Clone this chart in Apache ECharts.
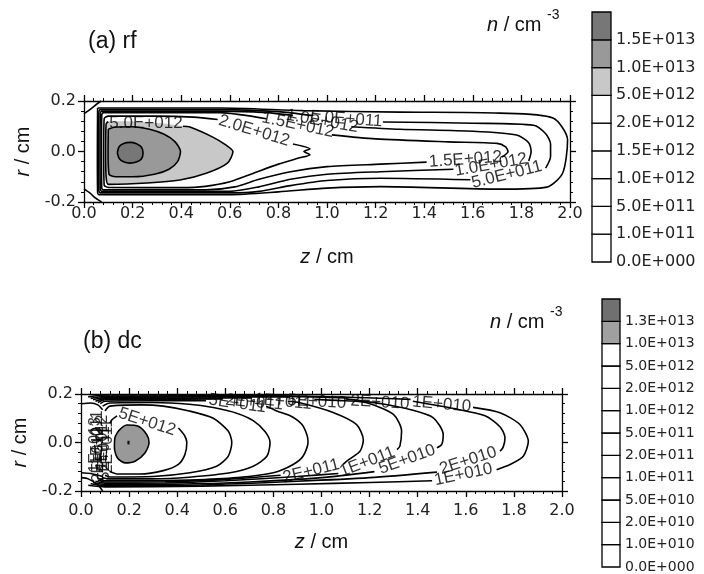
<!DOCTYPE html>
<html>
<head>
<meta charset="utf-8">
<script src="https://cdn.jsdelivr.net/npm/echarts@6/dist/echarts.min.js"></script>
<style>
html, body { margin: 0; background: #fff; }
#chart { width: 704px; height: 574px; }
</style>
</head>
<body>
<div id="chart"></div>
<script>
// tick labels
const zTicks = ['0.0', '0.2', '0.4', '0.6', '0.8', '1.0', '1.2', '1.4', '1.6', '1.8', '2.0']
const rTicks = ['-0.2', '0.0', '0.2']

// colour bars (bottom to top)
const barLabelsA = ['0.0E+000', '1.0E+011', '5.0E+011', '1.0E+012', '1.5E+012', '2.0E+012', '5.0E+012', '1.0E+013', '1.5E+013', '']
const barColorsA = ['#fff', '#fff', '#fff', '#fff', '#fff', '#fff', '#c8c8c8', '#999', '#777']
const barLabelsB = ['0.0E+000', '1.0E+010', '2.0E+010', '5.0E+010', '1.0E+011', '2.0E+011', '5.0E+011', '1.0E+012', '2.0E+012', '5.0E+012', '1.0E+013', '1.3E+013', '']
const barColorsB = ['#fff', '#fff', '#fff', '#fff', '#fff', '#fff', '#fff', '#fff', '#fff', '#fff', '#a0a0a0', '#707070']

// ---- panel (a) rf : [z, r] points ----
const aLight = [[0.091, 0.12], [0.2, 0.12], [0.32, 0.112], [0.436, 0.097], [0.53, 0.057], [0.585, 0.025], [0.613, 0.0], [0.59, -0.046], [0.506, -0.085], [0.395, -0.113], [0.26, -0.125], [0.1, -0.13], [0.091, -0.1], [0.089, 0.0]]
const aMid = [[0.1, 0.088], [0.13, 0.097], [0.2, 0.098], [0.27, 0.088], [0.33, 0.068], [0.375, 0.038], [0.397, 0.0], [0.385, -0.04], [0.35, -0.07], [0.29, -0.09], [0.2, -0.1], [0.13, -0.1], [0.103, -0.09], [0.099, 0.0]]
const aDark = [[0.137, -0.005], [0.145, 0.02], [0.163, 0.032], [0.19, 0.036], [0.216, 0.031], [0.236, 0.018], [0.243, -0.005], [0.236, -0.03], [0.215, -0.042], [0.19, -0.046], [0.163, -0.041], [0.145, -0.028]]

const a5e12 = [
  [[0.407, 0.1], [0.436, 0.097], [0.53, 0.057], [0.585, 0.025], [0.613, 0.0], [0.59, -0.046], [0.506, -0.085], [0.395, -0.113], [0.26, -0.125], [0.1, -0.13], [0.091, -0.1], [0.089, 0.0], [0.091, 0.11], [0.1, 0.118]]
]
const a2e12 = [
  [[0.55, 0.127], [0.45, 0.136], [0.3, 0.14], [0.1, 0.14], [0.083, 0.13], [0.081, 0.0], [0.083, -0.133], [0.1, -0.142], [0.4, -0.143], [0.5, -0.138], [0.6, -0.12], [0.7, -0.085], [0.8, -0.05], [0.88, -0.027], [0.93, -0.013], [0.905, 0.0], [0.93, 0.01], [0.86, 0.03]]
]
const a15e12 = [
  [[0.75, 0.13], [0.65, 0.145], [0.56, 0.154], [0.3, 0.154], [0.08, 0.154], [0.073, 0.145], [0.072, 0.0], [0.073, -0.145], [0.08, -0.152], [0.3, -0.152], [0.5, -0.152], [0.62, -0.14], [0.72, -0.11], [0.85, -0.08], [1.0, -0.06], [1.22, -0.05], [1.41, -0.042]],
  [[1.72, -0.022], [1.745, 0.0], [1.735, 0.018], [1.7, 0.032], [1.5, 0.038], [1.2, 0.05], [1.02, 0.066]]
]
const a1e12 = [
  [[0.86, 0.143], [0.75, 0.154], [0.56, 0.16], [0.3, 0.16], [0.073, 0.16], [0.067, 0.15], [0.066, 0.0], [0.067, -0.15], [0.073, -0.158], [0.3, -0.158], [0.6, -0.158], [0.72, -0.14], [0.85, -0.11], [1.0, -0.09], [1.22, -0.08], [1.52, -0.07]],
  [[1.83, -0.038], [1.84, 0.0], [1.83, 0.035], [1.78, 0.065], [1.6, 0.08], [1.3, 0.088], [1.1, 0.098]]
]
const a5e11 = [
  [[0.94, 0.142], [0.8, 0.158], [0.56, 0.166], [0.3, 0.166], [0.067, 0.166], [0.061, 0.155], [0.06, 0.0], [0.061, -0.155], [0.067, -0.164], [0.3, -0.164], [0.6, -0.164], [0.72, -0.158], [0.85, -0.135], [1.0, -0.115], [1.22, -0.106], [1.59, -0.112]],
  [[1.9, -0.066], [1.92, -0.02], [1.92, 0.03], [1.9, 0.07], [1.85, 0.104], [1.6, 0.112], [1.23, 0.117]]
]
const a1e11 = [
  [[0.056, 0.172], [0.3, 0.172], [0.56, 0.172], [0.9, 0.162], [1.3, 0.156], [1.71, 0.152], [1.93, 0.133], [1.99, 0.046], [1.97, -0.085], [1.905, -0.141], [1.71, -0.149], [1.22, -0.139], [1.0, -0.145], [0.8, -0.16], [0.6, -0.171], [0.3, -0.171], [0.062, -0.171], [0.056, -0.162], [0.055, 0.0], [0.056, 0.172]]
]
const aCorners = [
  [[0, 0.15], [0.02, 0.163], [0.045, 0.182], [0.07, 0.2]],
  [[0, -0.148], [0.025, -0.165], [0.048, -0.185], [0.072, -0.2]]
]
// [text, z, r, rotation]
const aLabels = [
  ['5.0E+012', 0.255, 0.11, 0],
  ['2.0E+012', 0.7, 0.082, -17],
  ['1.5E+012', 0.88, 0.105, -12],
  ['1.0E+012', 0.98, 0.12, -10],
  ['5.0E+011', 1.08, 0.128, -4],
  ['1.5E+012', 1.57, -0.032, 4],
  ['1.0E+012', 1.675, -0.053, 10],
  ['5.0E+011', 1.74, -0.092, 14]
]

// ---- panel (b) dc ----
const bGray = [[0.155, 0.047], [0.19, 0.072], [0.238, 0.067], [0.273, 0.033], [0.283, -0.001], [0.266, -0.043], [0.225, -0.077], [0.183, -0.084], [0.151, -0.063], [0.139, -0.022], [0.141, 0.019]]
const bDark = [[0.193, 0.007], [0.202, 0.007], [0.202, -0.008], [0.193, -0.008]]

const b5e12 = [
  [[0.405, 0.06], [0.43, 0.03], [0.44, 0.0], [0.432, -0.05], [0.405, -0.09], [0.342, -0.116], [0.245, -0.13], [0.15, -0.13], [0.12, -0.12]],
  [[0.15, 0.11], [0.13, 0.095], [0.12, 0.08]]
]
const b2e12 = [
  [[0.1, 0.13], [0.12, 0.15], [0.25, 0.155], [0.342, 0.15], [0.45, 0.13], [0.55, 0.1], [0.612, 0.047], [0.627, 0.0], [0.612, -0.057], [0.564, -0.098], [0.453, -0.125], [0.3, -0.14], [0.12, -0.142], [0.1, -0.135]]
]
const b1e12 = [
  [[0.09, 0.15], [0.12, 0.163], [0.3, 0.165], [0.45, 0.158], [0.55, 0.144], [0.65, 0.12], [0.716, 0.09], [0.765, 0.045], [0.786, 0.0], [0.773, -0.057], [0.716, -0.098], [0.62, -0.125], [0.45, -0.143], [0.3, -0.15], [0.12, -0.15], [0.09, -0.145]]
]
const b5e11 = [
  [[0.77, 0.15], [0.814, 0.13], [0.87, 0.11], [0.918, 0.075], [0.94, 0.03], [0.944, 0.0], [0.923, -0.057], [0.882, -0.091], [0.8, -0.125], [0.65, -0.145], [0.45, -0.155], [0.25, -0.158], [0.1, -0.158], [0.08, -0.15]],
  [[0.52, 0.172], [0.3, 0.172], [0.1, 0.17], [0.08, 0.16]]
]
const b2e11 = [
  [[0.86, 0.17], [0.91, 0.164], [1.048, 0.124], [1.146, 0.074], [1.174, 0.01], [1.16, -0.036], [1.105, -0.077], [1.09, -0.09]],
  [[0.83, -0.135], [0.6, -0.152], [0.35, -0.162], [0.1, -0.163], [0.07, -0.155]],
  [[0.59, 0.18], [0.3, 0.178], [0.1, 0.176], [0.07, 0.165]]
]
const b1e11 = [
  [[0.97, 0.178], [1.1, 0.172], [1.188, 0.164], [1.299, 0.116], [1.333, 0.047], [1.326, -0.015], [1.314, -0.029]],
  [[1.07, -0.128], [0.9, -0.14], [0.6, -0.158], [0.35, -0.167], [0.1, -0.168], [0.06, -0.16]],
  [[0.71, 0.184], [0.4, 0.183], [0.1, 0.181], [0.06, 0.17]]
]
const b5e10 = [
  [[1.1, 0.18], [1.25, 0.16], [1.368, 0.136], [1.465, 0.102], [1.506, 0.033], [1.5, -0.008], [1.48, -0.022]],
  [[1.22, -0.12], [1.0, -0.145], [0.7, -0.163], [0.4, -0.172], [0.1, -0.173], [0.05, -0.165]],
  [[0.87, 0.188], [0.5, 0.188], [0.1, 0.186], [0.05, 0.176]]
]
const b2e10 = [
  [[1.38, 0.17], [1.55, 0.14], [1.68, 0.11], [1.742, 0.065], [1.763, 0.02], [1.755, -0.02], [1.742, -0.036]],
  [[1.48, -0.122], [1.2, -0.145], [0.9, -0.16], [0.5, -0.175], [0.1, -0.178], [0.04, -0.17]],
  [[1.11, 0.184], [0.7, 0.192], [0.1, 0.191], [0.04, 0.182]]
]
const b1e10 = [
  [[1.63, 0.145], [1.742, 0.123], [1.825, 0.074], [1.86, 0.005], [1.839, -0.057], [1.784, -0.091], [1.728, -0.112]],
  [[1.46, -0.158], [1.2, -0.165], [0.9, -0.172], [0.5, -0.18], [0.1, -0.183], [0.03, -0.176]],
  [[1.37, 0.178], [1.0, 0.19], [0.5, 0.195], [0.1, 0.196], [0.03, 0.188]]
]
const bCorners = [
  [[0, 0.16], [0.04, 0.163], [0.07, 0.155], [0.09, 0.135]],
  [[0, -0.125], [0.04, -0.128], [0.07, -0.135], [0.09, -0.14]],
  [[0, -0.145], [0.03, -0.15], [0.07, -0.175], [0.09, -0.2]]
]
const bLabels = [
  ['5E+012', 0.275, 0.085, -18],
  ['5E+011', 0.65, 0.16, -8],
  ['2E+011', 0.72, 0.165, -5],
  ['1E+011', 0.84, 0.168, -5],
  ['5E+010', 0.98, 0.168, -3],
  ['2E+010', 1.243, 0.165, -3],
  ['1E+010', 1.5, 0.157, -5],
  ['2E+011', 0.957, -0.118, 14],
  ['1E+011', 1.19, -0.08, 21],
  ['5E+010', 1.356, -0.07, 20],
  ['2E+010', 1.61, -0.075, 18],
  ['1E+010', 1.59, -0.132, 12]
]
// the crowded vertical labels by the left wall
const bWallLabels = [
  ['1E+013', 0.06, -0.01, 90],
  ['2E+012', 0.075, -0.05, 90],
  ['1E+012', 0.088, 0.0, 90],
  ['5E+011', 0.1, -0.045, 90],
  ['2E+011', 0.112, -0.015, 90],
  ['1E+011', 0.07, 0.02, 90]
]

const ring = pts => pts.concat([pts[0]])

const chart = echarts.init(document.getElementById('chart'))

const tickFont = { fontFamily: 'DejaVu Sans', fontSize: 16, color: '#222' }
const nameStyle = {
  fontFamily: 'Liberation Sans', fontSize: 20, color: '#111',
  rich: { i: { fontFamily: 'Liberation Sans', fontSize: 20, fontStyle: 'italic', color: '#111' } }
}
const axisCommon = {
  axisLine: { show: true, onZero: false, lineStyle: { color: '#000', width: 1.3 } },
  axisTick: { show: true, length: 6, lineStyle: { color: '#000', width: 1.3 } },
  minorTick: { show: true, splitNumber: 5, length: 3, lineStyle: { color: '#000', width: 1 } },
  splitLine: { show: false }
}

function zAxis (grid, pos, labels, margin, gap) {
  return Object.assign({
    type: 'value', gridIndex: grid, position: pos, min: 0, max: 2, interval: 0.2,
    axisLabel: Object.assign({ show: labels, margin: margin, formatter: v => zTicks[Math.round(v / 0.2)] }, tickFont),
    name: labels ? '{i|z} / cm' : '', nameLocation: 'middle', nameGap: gap, nameTextStyle: nameStyle
  }, axisCommon)
}
function rAxis (grid, pos, labels, gap) {
  return Object.assign({
    type: 'value', gridIndex: grid, position: pos, min: -0.2, max: 0.2, interval: 0.2,
    axisLabel: Object.assign({ show: labels, margin: 8, formatter: v => rTicks[Math.round((v + 0.2) / 0.2)] }, tickFont),
    name: labels ? '{i|r} / cm' : '', nameLocation: 'middle', nameRotate: 90, nameGap: gap, nameTextStyle: nameStyle
  }, axisCommon)
}
function barAxis (grid, n, labels, size) {
  return {
    type: 'value', gridIndex: grid, position: 'right', min: 0, max: n, interval: 1,
    axisLine: { show: false }, axisTick: { show: false }, splitLine: { show: false },
    axisLabel: { margin: 5, formatter: v => labels[Math.round(v)], fontFamily: 'DejaVu Sans', fontSize: size, color: '#222' }
  }
}
const hidden = grid => ({ type: 'value', gridIndex: grid, min: 0, max: 1, show: false })

function lines (groups, ai) {
  const out = []
  groups.forEach(g => g.forEach(seg => out.push({
    type: 'line', xAxisIndex: ai, yAxisIndex: ai, data: seg, smooth: 0.25,
    showSymbol: false, symbol: 'none', silent: true, z: 3,
    lineStyle: { color: '#000', width: 1.6 }
  })))
  return out
}
function fills (polys, colors, ai) {
  return {
    type: 'custom', xAxisIndex: ai, yAxisIndex: ai, silent: true, z: 2,
    data: polys.map((p, i) => [p[0][0], p[0][1], i]),
    renderItem: (params, api) => {
      const i = api.value(2)
      return {
        type: 'polygon',
        shape: { points: polys[i].map(p => api.coord(p)) },
        style: { fill: colors[i], stroke: null }
      }
    }
  }
}
function labels (list, ai, size) {
  return {
    type: 'scatter', xAxisIndex: ai, yAxisIndex: ai, symbolSize: 0, silent: true, z: 4,
    data: list.map(l => ({ name: l[0], value: [l[1], l[2]], label: { rotate: l[3] } })),
    label: { show: true, position: 'inside', formatter: '{b}', color: '#000', fontFamily: 'Liberation Sans', fontSize: size }
  }
}
function colourBar (colors, ai) {
  return {
    type: 'custom', xAxisIndex: ai, yAxisIndex: ai, silent: true,
    data: colors.map((c, i) => [0, i]),
    renderItem: (params, api) => {
      const i = params.dataIndex
      const p0 = api.coord([0, i])
      const p1 = api.coord([1, i + 1])
      return {
        type: 'rect',
        shape: { x: p0[0], y: p1[1], width: p1[0] - p0[0], height: p0[1] - p1[1] },
        style: { fill: colors[i], stroke: '#000', lineWidth: 1.3 }
      }
    }
  }
}

const option = {
  animation: false,
  backgroundColor: '#fff',
  grid: [
    { left: 84, top: 101, width: 486, height: 101 },
    { left: 81, top: 394, width: 481, height: 97 },
    { left: 592, top: 12, width: 19, height: 250 },
    { left: 602, top: 299, width: 18, height: 268 }
  ],
  xAxis: [
    zAxis(0, 'bottom', true, 4, 45),
    zAxis(0, 'top', false, 4, 0),
    zAxis(1, 'bottom', true, 12, 41),
    zAxis(1, 'top', false, 4, 0),
    hidden(2),
    hidden(3)
  ],
  yAxis: [
    rAxis(0, 'left', true, 46),
    rAxis(0, 'right', false, 0),
    rAxis(1, 'left', true, 43),
    rAxis(1, 'right', false, 0),
    barAxis(2, 9, barLabelsA, 16),
    barAxis(3, 12, barLabelsB, 14)
  ],
  graphic: [
    { type: 'text', x: 88, y: 42, style: { text: '(a) rf', fontFamily: 'Liberation Sans', fontSize: 23, fill: '#111', verticalAlign: 'middle' } },
    { type: 'text', x: 83, y: 342, style: { text: '(b) dc', fontFamily: 'Liberation Sans', fontSize: 23, fill: '#111', verticalAlign: 'middle' } },
    { type: 'text', x: 487, y: 25, style: { text: '{i|n} / cm', fontFamily: 'Liberation Sans', fontSize: 20, fill: '#111', verticalAlign: 'middle', rich: { i: { fontStyle: 'italic', fontFamily: 'Liberation Sans', fontSize: 20, fill: '#111' } } } },
    { type: 'text', x: 547, y: 15, style: { text: '-3', fontFamily: 'Liberation Sans', fontSize: 14, fill: '#111', verticalAlign: 'middle' } },
    { type: 'text', x: 490, y: 322, style: { text: '{i|n} / cm', fontFamily: 'Liberation Sans', fontSize: 20, fill: '#111', verticalAlign: 'middle', rich: { i: { fontStyle: 'italic', fontFamily: 'Liberation Sans', fontSize: 20, fill: '#111' } } } },
    { type: 'text', x: 550, y: 312, style: { text: '-3', fontFamily: 'Liberation Sans', fontSize: 14, fill: '#111', verticalAlign: 'middle' } }
  ],
  series: [
    fills([aLight, aMid, aDark], ['#c8c8c8', '#999', '#777'], 0),
    ...lines([[ring(aMid)], [ring(aDark)], a5e12, a2e12, a15e12, a1e12, a5e11, a1e11, aCorners], 0),
    labels(aLabels, 0, 17),
    fills([bGray, bDark], ['#999', '#111'], 2),
    ...lines([[ring(bGray)], b5e12, b2e12, b1e12, b5e11, b2e11, b1e11, b5e10, b2e10, b1e10, bCorners], 2),
    labels(bLabels, 2, 17),
    labels(bWallLabels, 2, 16),
    colourBar(barColorsA, 4),
    colourBar(barColorsB, 5)
  ]
}

chart.setOption(option)
window.addEventListener('resize', () => {
  chart.resize()
})
</script>
</body>
</html>
